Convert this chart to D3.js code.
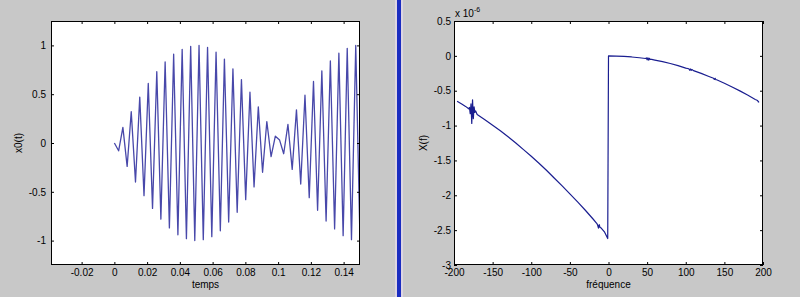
<!DOCTYPE html>
<html>
<head>
<meta charset="utf-8">
<script src="https://cdn.jsdelivr.net/npm/d3@7"></script>
<style>
  body { margin: 0; background: #c8c8c8; }
  svg { display: block; }
  text { font-family: "Liberation Sans", Arial, sans-serif; }
</style>
</head>
<body>
<div id="chart"></div>
<script>
// left plot : x0(t)
const times = [0, 0.0026, 0.0052, 0.0078, 0.0103, 0.0129, 0.0155, 0.0181, 0.0207, 0.0233,
  0.0259, 0.0284, 0.0310, 0.0336, 0.0362, 0.0388, 0.0414, 0.0440, 0.0466, 0.0491,
  0.0517, 0.0543, 0.0569, 0.0595, 0.0621, 0.0647, 0.0672, 0.0698, 0.0724, 0.0750,
  0.0776, 0.0802, 0.0828, 0.0853, 0.0879, 0.0905, 0.0931, 0.0957, 0.0983, 0.1009,
  0.1034, 0.1060, 0.1086, 0.1112, 0.1138, 0.1164, 0.1190, 0.1216, 0.1241, 0.1267,
  0.1293, 0.1319, 0.1345, 0.1371, 0.1397, 0.1422, 0.1448, 0.1474, 0.1500];
const x0 = [0, -0.08, 0.16, -0.24, 0.32, -0.40, 0.47, -0.54, 0.61, -0.67,
  0.73, -0.78, 0.83, -0.87, 0.91, -0.94, 0.96, -0.98, 0.99, -1.00,
  1.00, -0.99, 0.98, -0.96, 0.93, -0.90, 0.86, -0.81, 0.76, -0.71,
  0.65, -0.58, 0.52, -0.45, 0.37, -0.30, 0.22, -0.14, 0.07, 0.03,
  -0.11, 0.19, -0.27, 0.34, -0.42, 0.49, -0.56, 0.63, -0.69, 0.74,
  -0.80, 0.84, -0.88, 0.92, -0.95, 0.97, -0.99, 1.00, -1.00];
const timeLimits = [-0.0387, 0.15];
const x0Limits = [-1.25, 1.25];
const timeTicks = [-0.02, 0, 0.02, 0.04, 0.06, 0.08, 0.1, 0.12, 0.14];
const timeTickLabels = ["-0.02", "0", "0.02", "0.04", "0.06", "0.08", "0.1", "0.12", "0.14"];
const x0Ticks = [-1, -0.5, 0, 0.5, 1];
const x0TickLabels = ["-1", "-0.5", "0", "0.5", "1"];

// right plot : X(f), values in units of 1e-6
const freqs = [-196, -190, -185, -181, -180, -179, -178, -177, -176, -175, -174, -173, -172,
  -170, -160, -150, -140, -130, -120, -110, -100, -90, -80, -70, -60, -50, -40, -30, -20,
  -15, -14, -13, -12, -11, -10, -5, -1,
  0, 10, 20, 30, 40, 48, 49, 50, 51, 52, 53, 54, 56, 60, 70, 80, 90, 100,
  104, 105, 106, 107, 108, 110, 120, 130, 136, 137, 138, 139, 140, 150, 160, 170, 180,
  190, 193, 194, 195];
const spectrum = [-0.652, -0.690, -0.725, -0.76, -0.74, -0.83, -0.69, -0.97, -0.63, -0.90, -0.73, -0.81, -0.79,
  -0.840, -0.915, -0.995, -1.075, -1.160, -1.250, -1.345, -1.440, -1.540, -1.645, -1.755, -1.865, -1.980, -2.095, -2.215, -2.340,
  -2.405, -2.43, -2.47, -2.42, -2.46, -2.465, -2.53, -2.62,
  0, -0.003, -0.008, -0.016, -0.027, -0.038, -0.030, -0.058, -0.028, -0.062, -0.035, -0.050, -0.050, -0.060, -0.083, -0.110, -0.140, -0.175,
  -0.185, -0.205, -0.188, -0.208, -0.195, -0.212, -0.252, -0.296, -0.322, -0.338, -0.322, -0.342, -0.343, -0.393, -0.446, -0.502, -0.562,
  -0.625, -0.640, -0.662, -0.657];
const freqLimits = [-200, 200];
const spectrumLimits = [-3, 0.5];
const freqTicks = [-200, -150, -100, -50, 0, 50, 100, 150, 200];
const freqTickLabels = ["-200", "-150", "-100", "-50", "0", "50", "100", "150", "200"];
const spectrumTicks = [-3, -2.5, -2, -1.5, -1, -0.5, 0, 0.5];
const spectrumTickLabels = ["-3", "-2.5", "-2", "-1.5", "-1", "-0.5", "0", "0.5"];

const width = 800, height = 297;
const plotTop = 21, plotBottom = 265;

const svg = d3.select("#chart")
  .append("svg")
  .attr("width", width)
  .attr("height", height);

svg.append("rect")
  .attr("width", width)
  .attr("height", height)
  .attr("fill", "#c8c8c8");

// separator between the two figures
svg.append("rect").attr("x", 395).attr("y", 0).attr("width", 8).attr("height", height).attr("fill", "#ddd5e2");
svg.append("rect").attr("x", 397).attr("y", 0).attr("width", 4).attr("height", height).attr("fill", "#1a2cc0");

const drawPlot = (opts) => {
  const xScale = d3.scaleLinear().domain(opts.xLimits).range([opts.left, opts.right]);
  const yScale = d3.scaleLinear().domain(opts.yLimits).range([plotBottom, plotTop]);

  const g = svg.append("g");

  g.append("rect")
    .attr("x", opts.left)
    .attr("y", plotTop)
    .attr("width", opts.right - opts.left)
    .attr("height", plotBottom - plotTop)
    .attr("fill", "#fff");

  const clipId = "clip" + Math.round(opts.left);
  g.append("clipPath").attr("id", clipId)
    .append("rect")
      .attr("x", opts.left)
      .attr("y", plotTop)
      .attr("width", opts.right - opts.left)
      .attr("height", plotBottom - plotTop);

  const line = d3.line()
    .x(d => xScale(d[0]))
    .y(d => yScale(d[1]));

  g.append("path")
    .datum(d3.zip(opts.xs, opts.ys))
    .attr("clip-path", `url(#${clipId})`)
    .attr("d", line)
    .attr("fill", "none")
    .attr("stroke", opts.color)
    .attr("stroke-width", opts.lineWidth)
    .attr("stroke-linejoin", "round");

  const xLabel = d => opts.xTickLabels[opts.xTicks.indexOf(d)];
  const yLabel = d => opts.yTickLabels[opts.yTicks.indexOf(d)];

  const styleAxis = sel => {
    sel.select(".domain").remove();
    sel.selectAll(".tick line").attr("stroke", "#000");
    sel.selectAll(".tick text").attr("fill", "#000").style("font-size", "10px");
  };

  g.append("g")
    .attr("transform", `translate(0,${plotBottom})`)
    .call(d3.axisBottom(xScale).tickValues(opts.xTicks).tickFormat(xLabel)
      .tickSizeInner(-3).tickSizeOuter(0).tickPadding(4))
    .call(styleAxis);

  g.append("g")
    .attr("transform", `translate(0,${plotTop})`)
    .call(d3.axisTop(xScale).tickValues(opts.xTicks).tickFormat("")
      .tickSizeInner(-3).tickSizeOuter(0))
    .call(styleAxis);

  g.append("g")
    .attr("transform", `translate(${opts.left},0)`)
    .call(d3.axisLeft(yScale).tickValues(opts.yTicks).tickFormat(yLabel)
      .tickSizeInner(-3).tickSizeOuter(0).tickPadding(opts.yPad))
    .call(styleAxis);

  g.append("g")
    .attr("transform", `translate(${opts.right},0)`)
    .call(d3.axisRight(yScale).tickValues(opts.yTicks).tickFormat("")
      .tickSizeInner(-3).tickSizeOuter(0))
    .call(styleAxis);

  g.append("rect")
    .attr("x", opts.left + 0.5)
    .attr("y", plotTop + 0.5)
    .attr("width", opts.right - opts.left - 1)
    .attr("height", plotBottom - plotTop - 1)
    .attr("fill", "none")
    .attr("stroke", "#000");

  g.append("text")
    .attr("x", (opts.left + opts.right) / 2)
    .attr("y", 288)
    .attr("text-anchor", "middle")
    .style("font-size", "10px")
    .text(opts.xTitle);

  g.append("text")
    .attr("transform", `translate(${opts.yTitleX},${(plotTop + plotBottom) / 2}) rotate(-90)`)
    .attr("text-anchor", "middle")
    .style("font-size", "10px")
    .text(opts.yTitle);

  return g;
};

drawPlot({
  left: 51, right: 360,
  xLimits: timeLimits, yLimits: x0Limits,
  xs: times, ys: x0,
  xTicks: timeTicks, xTickLabels: timeTickLabels,
  yTicks: x0Ticks, yTickLabels: x0TickLabels,
  yPad: 5, color: "#4848aa", lineWidth: 1.3,
  xTitle: "temps", yTitle: "x0(t)", yTitleX: 22
});

const right = drawPlot({
  left: 454, right: 763,
  xLimits: freqLimits, yLimits: spectrumLimits,
  xs: freqs, ys: spectrum,
  xTicks: freqTicks, xTickLabels: freqTickLabels,
  yTicks: spectrumTicks, yTickLabels: spectrumTickLabels,
  yPad: 3, color: "#1a1e90", lineWidth: 1.2,
  xTitle: "fréquence", yTitle: "X(f)", yTitleX: 427
});

// exponent of the y axis
const expo = right.append("text")
  .attr("x", 455)
  .attr("y", 17)
  .style("font-size", "10px")
  .text("x 10");
expo.append("tspan")
  .attr("dy", -5)
  .style("font-size", "7px")
  .text("-6");
</script>
</body>
</html>
